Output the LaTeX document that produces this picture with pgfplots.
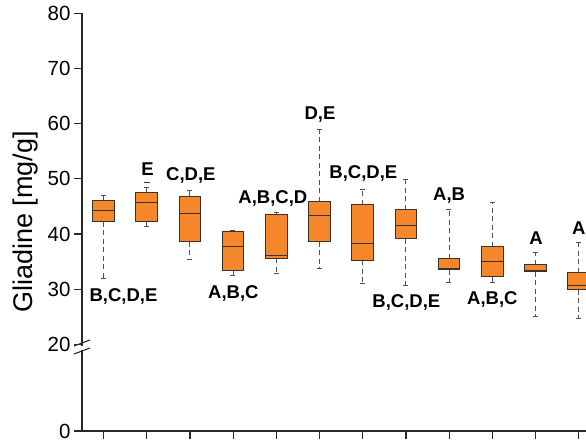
\documentclass[border=0pt]{standalone}
\usepackage{fontspec}
\setmainfont{Liberation Sans}
\usepackage{pgfplots}
\usepgfplotslibrary{statistics}
\pgfplotsset{compat=1.18}
\definecolor{boxfill}{RGB}{245,135,42}
\definecolor{edge}{RGB}{55,50,45}
\definecolor{axiscol}{RGB}{40,40,40}
\tikzset{
  lbl/.style={font=\fontsize{18.5bp}{21bp}\selectfont\bfseries, text=black, inner sep=0pt},
}
\pgfplotsset{
  bp/.style={mark=-, mark size=3bp, mark options={draw=edge, solid, line width=1bp}},
}
\begin{document}
\begin{tikzpicture}[x=1bp,y=1bp]
\useasboundingbox (0,0) rectangle (586,441);
\clip (0,0) rectangle (586,441);
\begin{axis}[
  at={(82bp,10bp)}, anchor=south west,
  scale only axis, width=539.9bp, height=417.6bp,
  xmin=0.5, xmax=13, ymin=4.3, ymax=80,
  axis lines*=left,
  xtick={1,2,3,4,5,6,7,8,9,10,11,12,13}, xticklabels={},
  ytick={4.3,20,30,40,50,60,70,80},
  yticklabels={0,20,30,40,50,60,70,80},
  tick align=outside, major tick length=8bp,
  tick style={draw=axiscol, line width=1.1bp},
  axis line style={draw=axiscol, line width=1.2bp},
  /pgf/number format/assume math mode=true,
  yticklabel style={font=\fontsize{20.5bp}{24bp}\selectfont, text=black},
  ylabel={Gliadine [mg/g]},
  ylabel style={font=\fontsize{27bp}{30bp}\selectfont, at={(axis description cs:-0.1046,0.5)}, anchor=center},
  clip=false,
  boxplot/draw direction=y,
  boxplot/box extend=0.5,
  boxplot/whisker extend=0.13,
  boxplot/every box/.style={fill=boxfill, draw=edge, line width=1bp},
  boxplot/every median/.style={draw=edge, line width=1.2bp},
  boxplot/every whisker/.style={draw=edge!85, line width=1bp, dash pattern=on 5bp off 3.5bp},
]
\addplot[bp, boxplot prepared={draw position=1, lower whisker=31.88, lower quartile=42.26, median=44.33, upper quartile=46.14, upper whisker=46.97}] coordinates {};
\addplot[bp, boxplot prepared={draw position=2, lower whisker=41.43, lower quartile=42.33, median=45.78, upper quartile=47.52, upper whisker=48.43}] coordinates {(0,49.28)};
\addplot[bp, boxplot prepared={draw position=3, lower whisker=35.45, lower quartile=38.58, median=43.71, upper quartile=46.87, upper whisker=47.95}] coordinates {};
\addplot[bp, boxplot prepared={draw position=4, lower whisker=32.47, lower quartile=33.38, median=37.80, upper quartile=40.45, upper whisker=40.63}] coordinates {};
\addplot[bp, boxplot prepared={draw position=5, lower whisker=32.78, lower quartile=35.63, median=36.17, upper quartile=43.48, upper whisker=43.84}] coordinates {};
\addplot[bp, boxplot prepared={draw position=6, lower whisker=33.74, lower quartile=38.64, median=43.42, upper quartile=45.83, upper whisker=58.94}] coordinates {};
\addplot[bp, boxplot prepared={draw position=7, lower whisker=31.02, lower quartile=35.27, median=38.35, upper quartile=45.29, upper whisker=48.01}] coordinates {};
\addplot[bp, boxplot prepared={draw position=8, lower whisker=30.61, lower quartile=39.13, median=41.48, upper quartile=44.44, upper whisker=49.82}] coordinates {};
\addplot[bp, boxplot prepared={draw position=9, lower whisker=31.28, lower quartile=33.51, median=33.82, upper quartile=35.50, upper whisker=44.44}] coordinates {};
\addplot[bp, boxplot prepared={draw position=10, lower whisker=31.15, lower quartile=32.24, median=35.08, upper quartile=37.68, upper whisker=45.65}] coordinates {};
\addplot[bp, boxplot prepared={draw position=11, lower whisker=25.12, lower quartile=33.14, median=33.45, upper quartile=34.47, upper whisker=36.64}] coordinates {};
\addplot[bp, boxplot prepared={draw position=12, lower whisker=24.68, lower quartile=29.94, median=30.66, upper quartile=32.96, upper whisker=38.53}] coordinates {};
\node[lbl] at (axis cs:1.46,28.7) {B,C,D,E};
\node[lbl] at (axis cs:2.02,51.85) {E};
\node[lbl] at (axis cs:3.02,50.6) {C,D,E};
\node[lbl] at (axis cs:4.005,29.15) {A,B,C};
\node[lbl] at (axis cs:4.92,46.5) {A,B,C,D};
\node[lbl] at (axis cs:6.01,61.6) {D,E};
\node[lbl] at (axis cs:7.015,50.9) {B,C,D,E};
\node[lbl] at (axis cs:8.01,27.6) {B,C,D,E};
\node[lbl] at (axis cs:9.0,47.0) {A,B};
\node[lbl] at (axis cs:10.0,28.07) {A,B,C};
\node[lbl] at (axis cs:11.01,39.25) {A};
\node[lbl] at (axis cs:12.0,41.06) {A};
\end{axis}
\fill[white] (78,90.5) rectangle (86,94.5);
\draw[axiscol, line width=1.1bp] (74,87) -- (90,93);
\draw[axiscol, line width=1.1bp] (74,95) -- (90,101);
\end{tikzpicture}
\end{document}
